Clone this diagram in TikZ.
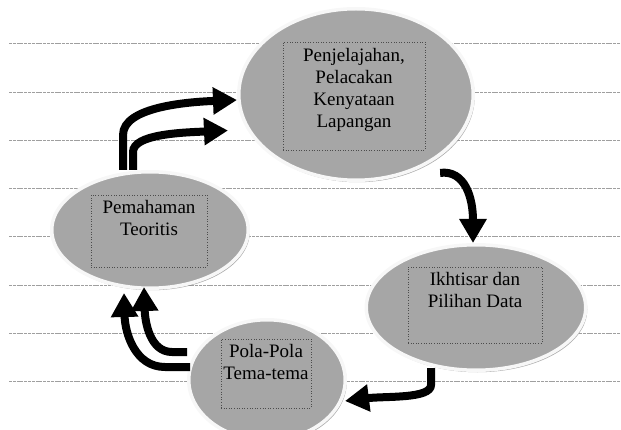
\documentclass[tikz,border=0pt]{standalone}
\usepackage{fontspec}
\setmainfont{Liberation Serif}
\usepackage{tikz}
\usetikzlibrary{shapes, arrows.meta, shadows}
\tikzset{
	tahap/.style={ellipse, fill=gray!70, draw=gray!6, line width=3.5pt, drop shadow={shadow xshift=1.5pt, shadow yshift=-2pt, fill=black!55, opacity=0.6}},
	kotak/.style={rectangle, draw=black!70, dotted, line width=0.6pt},
	isi/.style={align=center, font=\fontsize{19}{22}\selectfont, inner sep=0pt},
	panah/.style={line width=8pt, -{Triangle[width=26pt, length=24pt]}},
	garis/.style={gray!75, line width=1pt, dash pattern=on 3pt off 0.8pt}
}

\begin{document}
\begin{tikzpicture}[x=1pt, y=-1pt]
				\useasboundingbox (0,0) rectangle (621,430);
				
				\foreach \k in {0,...,7}
					\draw[garis] (9,44+48.25*\k) -- (621,44+48.25*\k);
				
				\node[tahap, minimum width=234.5pt, minimum height=171.5pt] (jelajah) at (356,94.5) {};
				\node[tahap, minimum width=196.5pt, minimum height=116.5pt] (paham) at (150,230) {};
				\node[tahap, minimum width=219.5pt, minimum height=125.5pt] (ikhtisar) at (476,307.5) {};
				\node[tahap, minimum width=156.5pt, minimum height=120.5pt] (pola) at (267,380) {};
				
				\node[kotak, minimum width=142pt, minimum height=108pt] (jelajahkotak) at (354,96) {};
				\node[isi] (jelajahteks) at (354,89.5) {Penjelajahan,\\Pelacakan\\Kenyataan\\Lapangan};
				
				\node[kotak, minimum width=116pt, minimum height=72pt] (pahamkotak) at (149,231) {};
				\node[isi] (pahamteks) at (149,218.5) {Pemahaman\\Teoritis};
				
				\node[kotak, minimum width=134pt, minimum height=76pt] (ikhtisarkotak) at (475,305) {};
				\node[isi] (ikhtisarteks) at (475,290.5) {Ikhtisar dan\\Pilihan Data};
				
				\node[kotak, minimum width=90pt, minimum height=69pt] (polakotak) at (266,373.5) {};
				\node[isi] (polateks) at (266,362) {Pola-Pola\\Tema-tema};
				
				\draw[panah] ([xshift=-27pt]paham.north) -- ++(0,-35) .. controls +(0,-28) and +(-50,2) .. ([yshift=-5.5pt]jelajah.west);
				\draw[panah] ([xshift=-17pt]paham.north) -- ++(0,-18) .. controls +(0,-18) and +(-45,2) .. ([xshift=-9pt, yshift=-36pt]jelajah.west);
				
				\draw[panah] ([yshift=-16.5pt]jelajah.south east) .. controls +(25,-3) and +(0,-45) .. ([xshift=-3pt]ikhtisar.north);
				
				\draw[panah] ([xshift=-45pt, yshift=4pt]ikhtisar.south) -- ++(0,17) .. controls +(0,14) and +(40,-5) .. ([xshift=-2pt, yshift=-21pt]pola.east);
				
				\draw[panah] ([xshift=3pt, yshift=13pt]pola.west) -- ++(-25,0) .. controls +(-30,0) and +(1,40) .. ([xshift=-26pt, yshift=-3pt]paham.south);
				\draw[panah] ([xshift=0pt, yshift=28pt]pola.west) -- ++(-15,0) .. controls +(-22,0) and +(1,35) .. ([xshift=-6pt, yshift=3pt]paham.south);
			\end{tikzpicture}
\end{document}
